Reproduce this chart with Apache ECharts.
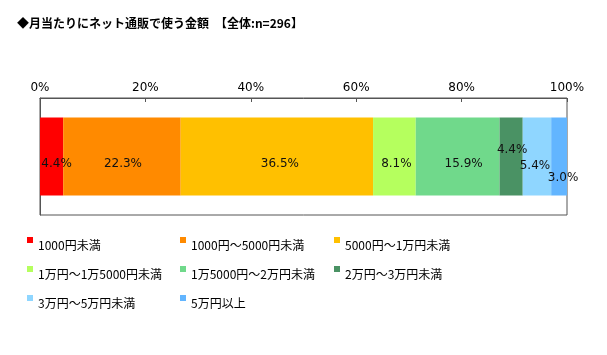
<!DOCTYPE html>
<html><head><meta charset="utf-8">
<script src="https://cdn.jsdelivr.net/npm/echarts@6/dist/echarts.min.js"></script>
<style>html,body{margin:0;padding:0;background:#fff}#c{width:607px;height:355px}</style>
</head><body><div id="c"></div>
<script>
const categories = ['全体'];
const seriesNames = ['1000円未満', '1000円～5000円未満', '5000円～1万円未満', '1万円～1万5000円未満', '1万5000円～2万円未満', '2万円～3万円未満', '3万円～5万円未満', '5万円以上'];
const values = [4.4, 22.3, 36.5, 8.1, 15.9, 4.4, 5.4, 3.0];
const tickLabels = ['0%', '20%', '40%', '60%', '80%', '100%'];

const colors = ['#FF0000', '#FF8A00', '#FFC000', '#B5FF5E', '#70D98B', '#4A9264', '#8FD6FF', '#62B5FF'];
const labelOffsets = [[5,7],[1,7],[3,7],[2,7],[6,7],[1,-7],[-2,9],[4,21]];
const legendCols = [[0,3,6],[1,4,7],[2,5]];
const legendLeft = [27, 180, 334];

const chart = echarts.init(document.getElementById('c'), null, {renderer: 'canvas'});
const series = seriesNames.map((name, i) => ({
  name: name,
  type: 'bar',
  stack: 'total',
  barWidth: 78,
  data: [values[i]],
  itemStyle: {color: colors[i]},
  label: {
    show: true,
    position: 'inside',
    offset: labelOffsets[i],
    color: '#111',
    fontFamily: 'DejaVu Sans',
    fontSize: 12,
    formatter: p => p.value.toFixed(1) + '%'
  }
}));

const legends = legendCols.map((col, k) => ({
  orient: 'vertical',
  left: legendLeft[k],
  top: 229,
  padding: 0,
  itemGap: 7,
  itemWidth: 6,
  itemHeight: 6,
  icon: 'rect',
  data: col.map(i => seriesNames[i]),
  formatter: name => '{t|' + name + '}',
  textStyle: {
    fontFamily: 'Noto Sans CJK JP', fontSize: 12, color: '#000',
    rich: {t: {fontFamily: 'Noto Sans CJK JP', fontSize: 12, color: '#000', lineHeight: 14, padding: [10, 0, 0, 0]}}
  }
}));

chart.setOption({
  animation: false,
  backgroundColor: '#fff',
  title: {
    text: '◆月当たりにネット通販で使う金額　【全体:n=296】',
    left: 17, top: 17, padding: 0,
    textStyle: {fontFamily: 'Noto Sans CJK JP', fontSize: 12, fontWeight: 'bold', color: '#000'}
  },
  legend: legends,
  grid: {left: 40, right: 40, top: 98, bottom: 140, show: true, borderColor: '#555', borderWidth: 1, backgroundColor: 'transparent'},
  xAxis: {
    type: 'value', position: 'top', min: 0, max: 100, interval: 20,
    axisLine: {show: true, lineStyle: {color: '#555'}},
    axisTick: {show: true, inside: true, length: 4, lineStyle: {color: '#555'}},
    splitLine: {show: false},
    axisLabel: {margin: 4, color: '#000', fontFamily: 'DejaVu Sans', fontSize: 12,
      formatter: v => tickLabels[Math.round(v / 20)]}
  },
  yAxis: {
    type: 'category', data: categories,
    axisLine: {show: true, lineStyle: {color: '#555'}},
    axisTick: {show: false}, axisLabel: {show: false}
  },
  series: series
});
</script></body></html>
